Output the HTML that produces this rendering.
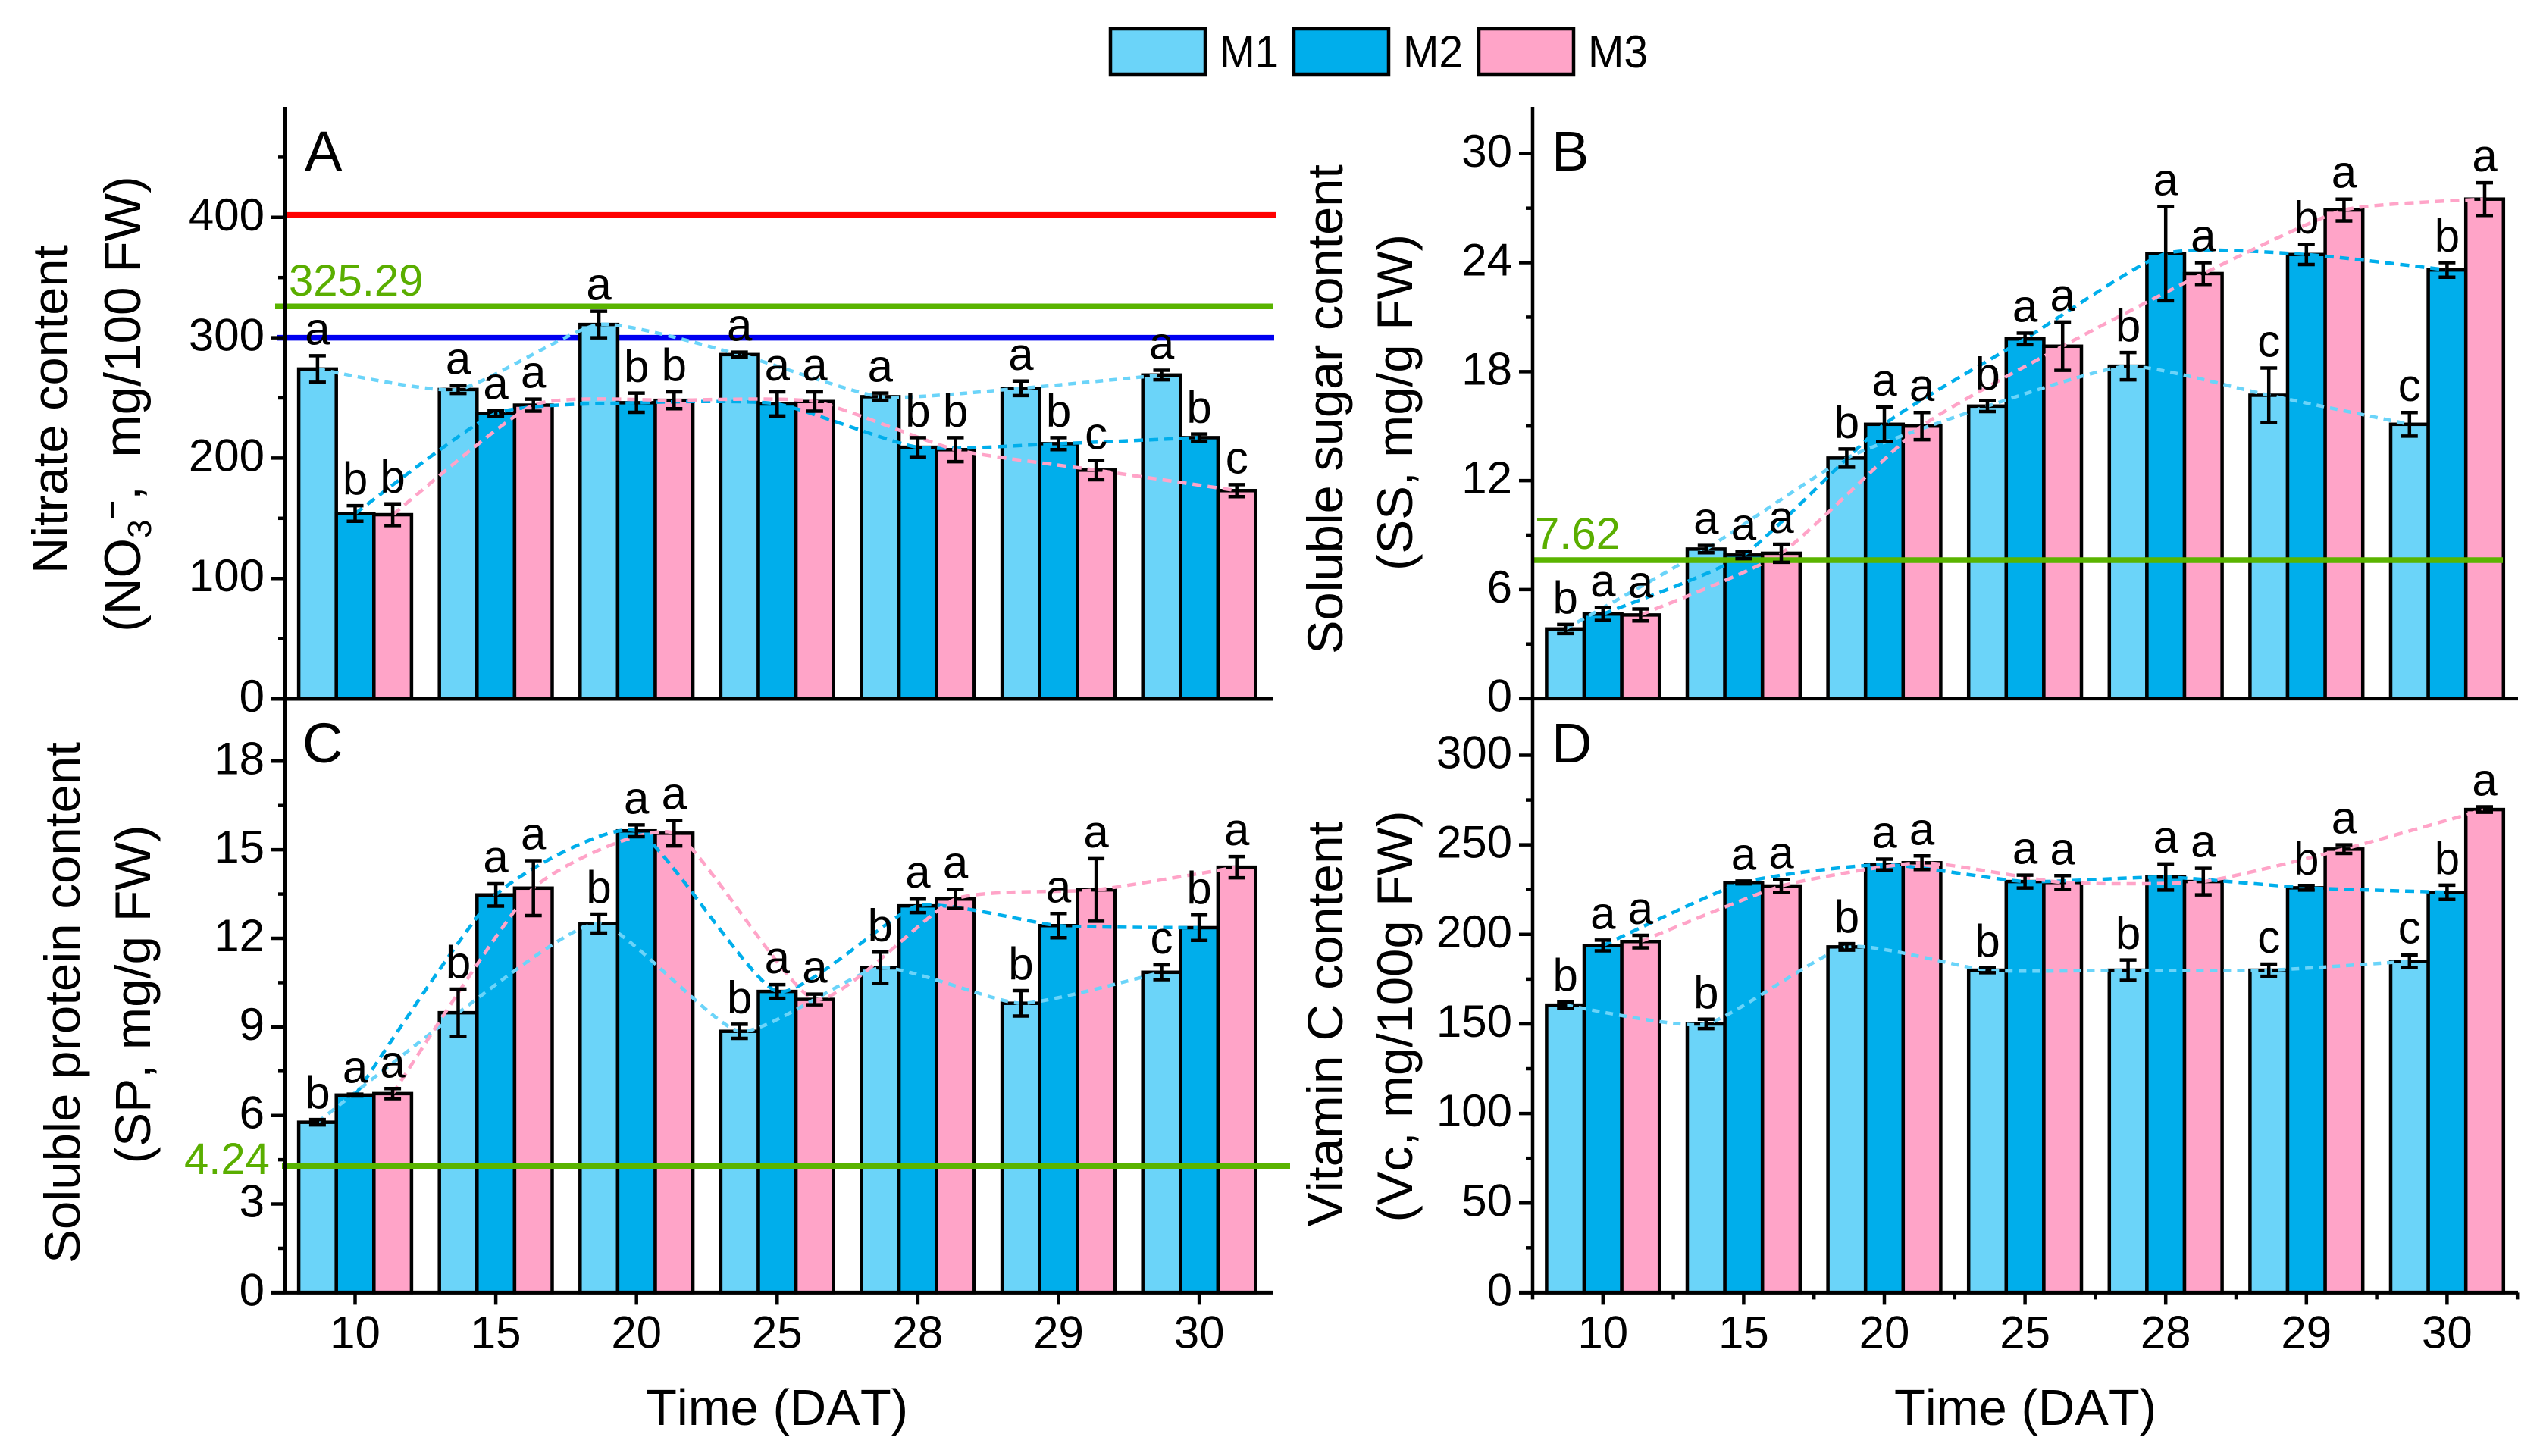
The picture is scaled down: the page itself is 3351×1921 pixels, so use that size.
<!DOCTYPE html>
<html lang="en">
<head>
<meta charset="utf-8">
<title>Nitrate, sugar, protein and vitamin C content by treatment</title>
<style>
html,body{margin:0;padding:0;background:#fff;}
svg{display:block;}
text{font-family:"Liberation Sans",Arial,sans-serif;fill:#000;font-kerning:none;}
</style>
</head>
<body>
<svg id="figure" xmlns="http://www.w3.org/2000/svg" width="3351" height="1921" viewBox="0 0 3351 1921">
<rect x="0" y="0" width="3351" height="1921" fill="#fff"/>

<g>
  <g>
    <rect x="1465" y="38" width="125" height="60" fill="#6BD4F9" stroke="#000" stroke-width="4.5"/>
    <text x="1609" y="89" font-size="60" textLength="78" lengthAdjust="spacingAndGlyphs">M1</text>
  </g>
  <g>
    <rect x="1707" y="38" width="125" height="60" fill="#00AEEB" stroke="#000" stroke-width="4.5"/>
    <text x="1851" y="89" font-size="60" textLength="79" lengthAdjust="spacingAndGlyphs">M2</text>
  </g>
  <g>
    <rect x="1951" y="38" width="125" height="60" fill="#FFA4C8" stroke="#000" stroke-width="4.5"/>
    <text x="2095" y="89" font-size="60" textLength="79" lengthAdjust="spacingAndGlyphs">M3</text>
  </g>
</g>

<g id="plots"></g>

<g font-size="66">
  <text transform="translate(89,540) rotate(-90)" text-anchor="middle" textLength="434" lengthAdjust="spacingAndGlyphs">Nitrate content</text>
  <text transform="translate(185,533) rotate(-90)" text-anchor="middle" font-size="67.5">(NO<tspan font-size="44" dy="14">3</tspan><tspan font-size="44" dy="-36">−</tspan><tspan dy="22">,&#160;&#160;mg/100 FW)</tspan></text>
  <text transform="translate(1771,540) rotate(-90)" text-anchor="middle" textLength="646" lengthAdjust="spacingAndGlyphs">Soluble sugar content</text>
  <text transform="translate(1863,531) rotate(-90)" text-anchor="middle" textLength="444" lengthAdjust="spacingAndGlyphs">(SS, mg/g FW)</text>
  <text transform="translate(105,1323) rotate(-90)" text-anchor="middle" textLength="688" lengthAdjust="spacingAndGlyphs">Soluble protein content</text>
  <text transform="translate(198,1312) rotate(-90)" text-anchor="middle" textLength="447" lengthAdjust="spacingAndGlyphs">(SP, mg/g FW)</text>
  <text transform="translate(1771,1351) rotate(-90)" text-anchor="middle" textLength="535" lengthAdjust="spacingAndGlyphs">Vitamin C content</text>
  <text transform="translate(1863,1341) rotate(-90)" text-anchor="middle" textLength="543" lengthAdjust="spacingAndGlyphs">(Vc, mg/100g FW)</text>
  <text x="1025" y="1880" text-anchor="middle" font-size="67">Time (DAT)</text>
  <text x="2672" y="1880" text-anchor="middle" font-size="67">Time (DAT)</text>
</g>
</svg>

<script>
const categories = ['10', '15', '20', '25', '28', '29', '30'];

const aM1 = [274, 257, 311, 286, 251, 258, 269];
const aM2 = [154, 237, 246, 245, 209, 212, 217];
const aM3 = [153, 244, 248, 247, 207, 190, 173];
const aM1Err = [11, 3.3, 11, 2, 3, 6, 4];
const aM2Err = [6.5, 2.5, 8, 10, 8, 5, 3];
const aM3Err = [9, 5, 7, 8, 10, 8, 5];
const aM1Letters = ['a', 'a', 'a', 'a', 'a', 'a', 'a'];
const aM2Letters = ['b', 'a', 'b', 'a', 'b', 'b', 'b'];
const aM3Letters = ['b', 'a', 'b', 'a', 'b', 'c', 'c'];
const aMajorTicks = [0, 100, 200, 300, 400];
const aMinorTicks = [50, 150, 250, 350, 450];
const aReference = [402, 326, 300];

const bM1 = [3.83, 8.23, 13.24, 16.1, 18.3, 16.7, 15.1];
const bM2 = [4.65, 7.9, 15.1, 19.8, 24.5, 24.45, 23.6];
const bM3 = [4.6, 8.0, 15.0, 19.4, 23.4, 26.9, 27.5];
const bM1Err = [0.25, 0.2, 0.5, 0.3, 0.75, 1.5, 0.65];
const bM2Err = [0.35, 0.2, 0.95, 0.32, 2.6, 0.55, 0.4];
const bM3Err = [0.33, 0.5, 0.75, 1.33, 0.6, 0.6, 0.9];
const bM1Letters = ['b', 'a', 'b', 'b', 'b', 'c', 'c'];
const bM2Letters = ['a', 'a', 'a', 'a', 'a', 'b', 'b'];
const bM3Letters = ['a', 'a', 'a', 'a', 'a', 'a', 'a'];
const bMajorTicks = [0, 6, 12, 18, 24, 30];
const bMinorTicks = [3, 9, 15, 21, 27];
const bReference = [7.62];

const cM1 = [5.77, 9.48, 12.5, 8.85, 11.0, 9.8, 10.85];
const cM2 = [6.69, 13.47, 15.64, 10.2, 13.1, 12.43, 12.36];
const cM3 = [6.74, 13.7, 15.56, 9.93, 13.33, 13.64, 14.41];
const cM1Err = [0.09, 0.8, 0.32, 0.24, 0.53, 0.43, 0.25];
const cM2Err = [0.03, 0.38, 0.2, 0.23, 0.23, 0.41, 0.43];
const cM3Err = [0.17, 0.93, 0.43, 0.18, 0.32, 1.06, 0.36];
const cM1Letters = ['b', 'b', 'b', 'b', 'b', 'b', 'c'];
const cM2Letters = ['a', 'a', 'a', 'a', 'a', 'a', 'b'];
const cM3Letters = ['a', 'a', 'a', 'a', 'a', 'a', 'a'];
const cMajorTicks = [0, 3, 6, 9, 12, 15, 18];
const cMinorTicks = [1.5, 4.5, 7.5, 10.5, 13.5, 16.5];
const cReference = [4.28];

const dM1 = [160.5, 150, 193, 180, 180, 180, 185];
const dM2 = [193.8, 229, 239, 229.5, 232, 226, 223.5];
const dM3 = [196, 227, 240, 229, 229.5, 247.6, 269.7];
const dM1Err = [1.8, 2.6, 1.8, 1.4, 5.7, 3.4, 3.6];
const dM2Err = [3, 0.8, 3, 3.6, 7.3, 1.3, 4];
const dM3Err = [3.5, 3.5, 3.8, 3.8, 7.4, 2.4, 1.5];
const dM1Letters = ['b', 'b', 'b', 'b', 'b', 'c', 'c'];
const dM2Letters = ['a', 'a', 'a', 'a', 'a', 'b', 'b'];
const dM3Letters = ['a', 'a', 'a', 'a', 'a', 'a', 'a'];
const dMajorTicks = [0, 50, 100, 150, 200, 250, 300];
const dMinorTicks = [25, 75, 125, 175, 225, 275];
const dReference = [];

const SVGNS = 'http://www.w3.org/2000/svg';
const plots = document.getElementById('plots');
const seriesColors = ['#6BD4F9', '#00AEEB', '#FFA4C8'];
const seriesKeys = ['m1', 'm2', 'm3'];
const seriesDash = ['10 8', '12 8', '12 8'];

function make(tag, parent, attrs) {
  const el = document.createElementNS(SVGNS, tag);
  for (const k in attrs) el.setAttribute(k, attrs[k]);
  parent.appendChild(el);
  return el;
}

function smoothPath(points) {
  const k = 11;
  let d = 'M' + points[0][0] + ' ' + points[0][1];
  for (let i = 0; i < points.length - 1; i++) {
    const p0 = points[Math.max(0, i - 1)];
    const p1 = points[i];
    const p2 = points[i + 1];
    const p3 = points[Math.min(points.length - 1, i + 2)];
    const c1x = p1[0] + (p2[0] - p0[0]) / k;
    const c1y = p1[1] + (p2[1] - p0[1]) / k;
    const c2x = p2[0] - (p3[0] - p1[0]) / k;
    const c2y = p2[1] - (p3[1] - p1[1]) / k;
    d += ' C' + c1x + ' ' + c1y + ' ' + c2x + ' ' + c2y + ' ' + p2[0] + ' ' + p2[1];
  }
  return d;
}

function drawPanel(cfg) {
  const yScale = v => cfg.y0 - v * cfg.unit;
  const xCenter = i => cfg.x0 + i * cfg.pitch;
  const barWidth = 49.6;
  const xBar = (i, s) => xCenter(i) + (s - 1) * barWidth;

  const panel = make('g', plots, {});
  
  

  const drawRefs = () => {
    cfg.reference.forEach((v, i) => {
      const y = yScale(v);
      const line = make('line', panel, {x1: cfg.refStart[i], x2: cfg.refEnd[i], y1: y, y2: y, stroke: cfg.refColors[i], 'stroke-width': 7.5});
      
      
    });
  };

  if (cfg.refsBehind) drawRefs();

  cfg.values.forEach((vals, s) => {
    vals.forEach((v, i) => {
      const cx = xBar(i, s);
      const top = yScale(v);
      const bar = make('rect', panel, {x: cx - barWidth / 2, y: top, width: barWidth, height: cfg.y0 - top, fill: seriesColors[s], stroke: '#000', 'stroke-width': 4.5});
      
      
    });
  });

  cfg.values.forEach((vals, s) => {
    const pts = vals.map((v, i) => [xBar(i, s), yScale(v)]);
    const trend = make('path', panel, {d: smoothPath(pts), fill: 'none', stroke: seriesColors[s], 'stroke-width': 4.5, 'stroke-dasharray': seriesDash[s]});
    
    
  });

  if (!cfg.refsBehind) drawRefs();

  cfg.values.forEach((vals, s) => {
    vals.forEach((v, i) => {
      const cx = xBar(i, s);
      const e = cfg.errors[s][i];
      const hi = yScale(v + e);
      const lo = yScale(v - e);
      const err = make('path', panel, {d: 'M' + (cx - 11) + ' ' + hi + 'H' + (cx + 11) + 'M' + cx + ' ' + hi + 'V' + lo + 'M' + (cx - 11) + ' ' + lo + 'H' + (cx + 11), fill: 'none', stroke: '#000', 'stroke-width': 4.5});
      
      
      const letter = make('text', panel, {x: cx, y: hi - 15, 'text-anchor': 'middle', 'font-size': 60});
      letter.textContent = cfg.letters[s][i];
      
      
    });
  });

  const yAxis = make('line', panel, {x1: cfg.axisX, x2: cfg.axisX, y1: cfg.axisTop, y2: cfg.y0 + 2, stroke: '#000', 'stroke-width': 4.5});
  
  
  const xAxis = make('line', panel, {x1: cfg.axisX - 18, x2: cfg.axisEnd, y1: cfg.y0, y2: cfg.y0, stroke: '#000', 'stroke-width': 5});
  
  

  cfg.majorTicks.forEach(v => {
    const y = yScale(v);
    const tick = make('line', panel, {x1: cfg.axisX - 18, x2: cfg.axisX, y1: y, y2: y, stroke: '#000', 'stroke-width': 4.5});
    
    
    const label = make('text', panel, {x: cfg.axisX - 27, y: y + 17, 'text-anchor': 'end', 'font-size': 60});
    label.textContent = String(v);
    
    
  });
  cfg.minorTicks.forEach(v => {
    const y = yScale(v);
    const tick = make('line', panel, {x1: cfg.axisX - 9, x2: cfg.axisX, y1: y, y2: y, stroke: '#000', 'stroke-width': 4.5});
    
    
  });

  if (cfg.showXTicks) {
    categories.forEach((c, i) => {
      const x = xCenter(i);
      const tick = make('line', panel, {x1: x, x2: x, y1: cfg.y0, y2: cfg.y0 + 16, stroke: '#000', 'stroke-width': 4.5});
      
      
      const label = make('text', panel, {x: x, y: cfg.y0 + 73, 'text-anchor': 'middle', 'font-size': 60});
      label.textContent = c;
      
      
    });
  }
  if (cfg.showXMinor) {
    for (let i = 0; i <= categories.length; i++) {
      const x = xCenter(i) - cfg.pitch / 2;
      const tick = make('line', panel, {x1: x, x2: x, y1: cfg.y0, y2: cfg.y0 + 9, stroke: '#000', 'stroke-width': 4.5});
      
      
    }
  }

  const panelLabel = make('text', panel, {x: cfg.letterX, y: cfg.letterY, 'font-size': 74});
  panelLabel.textContent = cfg.id.toUpperCase();
  
  

  cfg.refLabels.forEach(r => {
    const t = make('text', panel, {x: r.x, y: r.y, 'font-size': 58, style: 'fill:#5AAE00'});
    t.textContent = r.text;
    
    
  });
}

drawPanel({
  id: 'a', x0: 468.5, pitch: 185.6, y0: 922, unit: 1.588, axisX: 376, axisTop: 141, axisEnd: 1679,
  values: [aM1, aM2, aM3], errors: [aM1Err, aM2Err, aM3Err], letters: [aM1Letters, aM2Letters, aM3Letters],
  majorTicks: aMajorTicks, minorTicks: aMinorTicks, reference: aReference,
  refColors: ['#FF0000', '#5AB400', '#0000F0'], refStart: [376, 363, 365], refEnd: [1684, 1679, 1681], refsBehind: true,
  refLabels: [{text: '325.29', x: 381, y: 390}], letterX: 402, letterY: 225, showXTicks: false, showXMinor: false
});
drawPanel({
  id: 'b', x0: 2114.8, pitch: 185.6, y0: 921.6, unit: 23.96, axisX: 2022, axisTop: 141, axisEnd: 3322,
  values: [bM1, bM2, bM3], errors: [bM1Err, bM2Err, bM3Err], letters: [bM1Letters, bM2Letters, bM3Letters],
  majorTicks: bMajorTicks, minorTicks: bMinorTicks, reference: bReference,
  refColors: ['#5AB400'], refStart: [2022], refEnd: [3302], refsBehind: false,
  refLabels: [{text: '7.62', x: 2025, y: 724}], letterX: 2047, letterY: 225, showXTicks: false, showXMinor: false
});
drawPanel({
  id: 'c', x0: 468.5, pitch: 185.6, y0: 1705.4, unit: 38.95, axisX: 376, axisTop: 921, axisEnd: 1679,
  values: [cM1, cM2, cM3], errors: [cM1Err, cM2Err, cM3Err], letters: [cM1Letters, cM2Letters, cM3Letters],
  majorTicks: cMajorTicks, minorTicks: cMinorTicks, reference: cReference,
  refColors: ['#5AB400'], refStart: [372], refEnd: [1702], refsBehind: false,
  refLabels: [{text: '4.24', x: 243, y: 1549}], letterX: 399, letterY: 1006, showXTicks: true, showXMinor: false
});
drawPanel({
  id: 'd', x0: 2114.8, pitch: 185.6, y0: 1705.4, unit: 2.363, axisX: 2022, axisTop: 921, axisEnd: 3322,
  values: [dM1, dM2, dM3], errors: [dM1Err, dM2Err, dM3Err], letters: [dM1Letters, dM2Letters, dM3Letters],
  majorTicks: dMajorTicks, minorTicks: dMinorTicks, reference: dReference,
  refColors: [], refStart: [], refEnd: [], refsBehind: false,
  refLabels: [], letterX: 2047, letterY: 1006, showXTicks: true, showXMinor: true
});
</script>
</body>
</html>
